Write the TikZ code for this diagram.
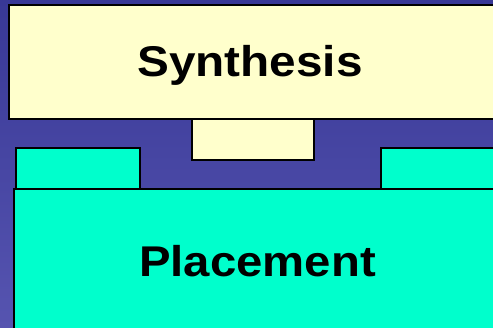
\documentclass[tikz,border=0pt]{standalone}
\usepackage{fontspec}
\setmainfont{Liberation Sans}
\begin{document}
\begin{tikzpicture}[x=1pt,y=-1pt,
  synthfill/.style={draw=black, line width=2pt, fill={rgb,255:red,255;green,255;blue,204}, inner sep=0pt, anchor=north west},
  placefill/.style={draw=black, line width=2pt, fill={rgb,255:red,0;green,255;blue,204}, inner sep=0pt, anchor=north west},
  label/.style={anchor=base, inner sep=0pt, font=\fontsize{43}{43}\selectfont\bfseries}]
\useasboundingbox (0,0) rectangle (493,327);
\shade[top color={rgb,255:red,56;green,56;blue,150}, bottom color={rgb,255:red,86;green,84;blue,176}] (0,0) rectangle (493,327);
\begin{scope}
\clip (0,0) rectangle (493,327);
\node[synthfill, minimum width=500pt, minimum height=114pt] (synth) at (8,4) {};
\node[synthfill, minimum width=122pt, minimum height=41pt] (port) at (191,118) {};
\node[placefill, minimum width=124pt, minimum height=42pt] (ltab) at (15,147) {};
\node[placefill, minimum width=130pt, minimum height=42pt] (rtab) at (380,147) {};
\node[placefill, minimum width=500pt, minimum height=150pt] (place) at (13,188) {};
\end{scope}
\node[label] (synthtext) at (250,76) {\scalebox{1.11}[1]{Synthesis}};
\node[label] (placetext) at (257.5,276) {\scalebox{1.1}[1]{Placement}};
\end{tikzpicture}
\end{document}
